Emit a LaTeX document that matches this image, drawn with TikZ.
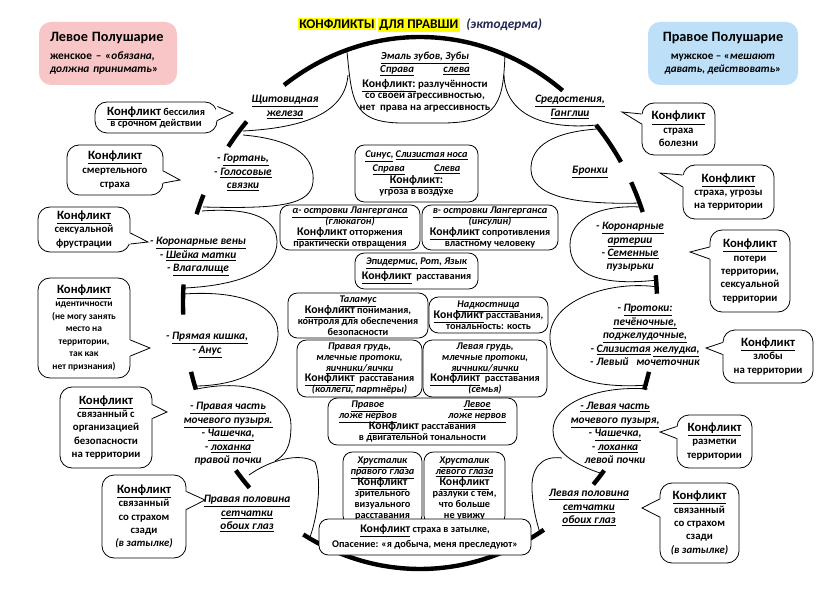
\documentclass[tikz,border=0pt]{standalone}
\usepackage{fontspec}
\setmainfont{Carlito}
\usetikzlibrary{calc}

\definecolor{leftpink}{HTML}{F8C6C6}
\definecolor{rightblue}{HTML}{BEDFF8}
\definecolor{hilite}{HTML}{FFFF00}
\definecolor{navy}{HTML}{202850}
\setlength\fboxsep{1pt}
\setlength\lineskiplimit{-10pt}
\setlength\lineskip{0pt}

\tikzset{
  ring/.style={line width=3.3pt},
  petal/.style={line width=0.6pt},
  sz/.style 2 args={minimum width=#1*0.75pt, minimum height=#2*0.75pt},
  cbox/.style={draw, line width=0.6pt, rounded corners=7, fill=white, align=center, inner sep=0pt, font=\fontsize{7.7}{8.2}\selectfont\bfseries},
  bubble/.style={draw, line width=0.6pt, rounded corners=9, fill=white, align=center, inner sep=0pt, font=\fontsize{8.1}{10}\selectfont\bfseries},
  organ/.style={align=center, inner sep=0pt, font=\fontsize{8.5}{10.1}\selectfont\bfseries\itshape}
}

\newcommand\und[1]{\underline{#1}}
\newcommand\kf{{\fontsize{9.5}{9.5}\selectfont\und{Конфликт}}}
\newcommand\kfs{{\fontsize{8.8}{8.8}\selectfont\und{Конфликт}}}
\newcommand\kfc{{\fontsize{8.8}{8.8}\selectfont\und{Конфликт:}}}
\newcommand\ringarc[2]{\draw[ring] (420,303) ++(#1:237 and 266) arc[start angle=#1, end angle=#2, x radius=237, y radius=266];}
\newcommand\bubtip[6]{%
  \path (#1.#2) ++(0,#3) coordinate (#1b);
  \fill[white] ($(#1b)+(#5,-#6)$) -- (#4) -- ($(#1b)+(#5,#6)$) -- cycle;
  \draw[petal] ($(#1b)+(0,-#6)$) -- (#4) -- ($(#1b)+(0,#6)$);}

\begin{document}
\begin{tikzpicture}[x=0.75pt,y=-0.75pt]
\useasboundingbox (0,0) rectangle (831,598);
\fill[white] (0,0) rectangle (831,598);

% header
\node[fill=leftpink, rounded corners=9, sz={138}{63}, align=left, inner sep=0pt, text width=87pt, font=\fontsize{8.5}{9.8}\selectfont\bfseries] (lefthemi) at (108,53.5)
  {{\fontsize{10.7}{12}\selectfont Левое Полушарие}\\[4pt]женское – «\textit{обязана,}\\\textit{должна принимать}»};
\node[fill=rightblue, rounded corners=9, sz={150}{63}, align=center, inner sep=0pt, font=\fontsize{8.3}{9.8}\selectfont\bfseries] (righthemi) at (723,53.5)
  {{\fontsize{10.7}{12}\selectfont Правое Полушарие}\\[4pt]мужское – «\textit{мешают}\\\textit{давать, действовать}»};
\node[font=\fontsize{10}{11}\selectfont\bfseries] (title) at (420,25)
  {\colorbox{hilite}{КОНФЛИКТЫ}\hspace{1.5pt}\colorbox{hilite}{ДЛЯ ПРАВШИ}\enspace\textcolor{navy}{\textit{(эктодерма)}}};

% ring
\ringarc{235}{307}
\ringarc{216}{223}
\ringarc{199.5}{204}
\ringarc{177.5}{184}
\ringarc{161}{165}
\ringarc{136}{141}
\ringarc{58.5}{119.5}
\ringarc{39}{43}
\ringarc{15}{19}
\ringarc{354}{358}
\ringarc{333}{340}
\ringarc{318}{328}

% petals
\draw[petal] (347,52) .. controls (352,100) and (352,122) .. (400,123) -- (445,123) .. controls (500,122) and (503,100) .. (505,55);
\draw[petal] (243,131) .. controls (300,128) and (345,115) .. (348,75);
\draw[petal] (597,125) .. controls (545,130) and (505,115) .. (504,75);
\draw[petal] (243,135) .. controls (300,140) and (315,160) .. (313,182) .. controls (311,205) and (280,209) .. (203,207);
\draw[petal] (202,211) .. controls (255,207) and (277,220) .. (277,242) .. controls (277,268) and (245,285) .. (185,288);
\draw[petal] (184,294) .. controls (240,290) and (278,305) .. (278,333) .. controls (278,365) and (245,385) .. (197,386);
\draw[petal] (197,389) .. controls (250,378) and (291,395) .. (291,425) .. controls (291,448) and (285,455) .. (275,461);
\draw[petal] (249,475) .. controls (270,460) and (300,452) .. (315,462) .. controls (322,480) and (318,515) .. (310,537);
\draw[petal] (597,129) .. controls (555,132) and (530,145) .. (531,170) .. controls (532,195) and (570,205) .. (640,203);
\draw[petal] (640,207) .. controls (600,205) and (570,218) .. (570,245) .. controls (570,272) and (595,287) .. (658,280);
\draw[petal] (658,287) .. controls (610,280) and (552,300) .. (550,335) .. controls (549,370) and (580,390) .. (648,385);
\draw[petal] (648,389) .. controls (595,385) and (553,405) .. (553,430) .. controls (553,452) and (575,465) .. (603,474);
\draw[petal] (562,458) .. controls (540,455) and (531,470) .. (532,490) .. controls (533,510) and (537,523) .. (540,533);

% centre
\node[organ, font=\fontsize{8.1}{8.6}\selectfont\bfseries] (enamel) at (425,82)
  {\textit{\und{Эмаль зубов, Зубы}}\\[1pt]\textit{\und{Справа}\hspace{22pt}\und{слева}}\\[3pt]\kfc\ разлучённости\\со своей агрессивностью,\\нет\ \ права на агрессивность};
\node[cbox, sz={123}{57}] (sinus) at (416.5,173.5)
  {\textit{\und{Синус,} \und{Слизистая носа}}\\[2pt]\textit{\und{Справа}\hspace{22pt}\und{Слева}}\\[1pt]\kfc\\угроза в воздухе};
\node[cbox, sz={140}{45}] (alpha) at (350,227.5)
  {\textit{\und{α- островки Лангерганса}}\\\textit{(глюкагон)}\\\kfs\ отторжения\\практически отвращения};
\node[cbox, sz={136}{45}] (beta) at (490,227.5)
  {\textit{\und{в- островки Лангерганса}}\\\textit{(инсулин)}\\\kfs\ сопротивления\\властному человеку};
\node[cbox, sz={123}{36}] (epid) at (416.5,271)
  {\textit{\und{Эпидермис,} \und{Рот, Язык}}\\[3pt]\kfs\ \ расставания};
\node[cbox, sz={140}{45}] (thal) at (358,315.5)
  {\textit{\und{Таламус}}\\\kfs\ понимания,\\контроля для обеспечения\\безопасности};
\node[cbox, sz={119}{36}] (nadk) at (488.5,315)
  {\textit{\und{Надкостница}}\\\kfs\ расставания,\\тональность: кость};
\node[cbox, sz={125}{57}] (rbreast) at (359.5,368.5)
  {\textit{Правая грудь,}\\\textit{млечные протоки,}\\\textit{\und{яичники/яички}}\\\kfs\ \ расставания\\\textit{(коллеги, партнёры)}};
\node[cbox, sz={124}{57}] (lbreast) at (485,368.5)
  {\textit{Левая грудь,}\\\textit{млечные протоки,}\\\textit{\und{яичники/яички}}\\\kfs\ \ расставания\\\textit{(семья)}};
\node[cbox, sz={189}{47}] (nerves) at (422.5,421.5)
  {\textit{\makebox[50pt]{\und{Правое}}\hspace{32pt}\makebox[50pt]{\und{Левое}}}\\
   \textit{\makebox[50pt]{\und{ложе нервов}}\hspace{32pt}\makebox[50pt]{\und{ложе нервов}}}\\
   \kfs\ расставания\\в двигательной тональности};
\node[cbox, sz={79}{73}] (rlens) at (382.5,488.5)
  {\textit{\und{Хрусталик}}\\\textit{\und{правого глаза}}\\\kfs\\зрительного\\визуального\\расставания};
\node[cbox, sz={81}{73}] (llens) at (464.5,488.5)
  {\textit{\und{Хрусталик}}\\\textit{\und{левого глаза}}\\\kfs\\разлуки с тем,\\что больше\\не увижу};
\node[cbox, sz={212}{36}] (occiput) at (425,537)
  {\kfs\ страха в затылке,\\[3pt]Опасение: «я добыча, меня преследуют»};

% organs
\node[organ] (thyroid) at (285,107) {\und{Щитовидная}\\\und{железа}};
\node[organ] (mediast) at (570,107) {\und{Средостения,}\\\und{Ганглии}};
\node[organ] (larynx) at (243,173) {- \und{Гортань,}\\- \und{Голосовые}\\\und{связки}};
\node[organ] (bronchi) at (590,172) {\und{Бронхи}};
\node[organ] (cveins) at (198,257) {- \und{Коронарные вены}\\- \und{Шейка матки}\\- \und{Влагалище}};
\node[organ] (carter) at (630,247) {- \und{Коронарные}\\\und{артерии}\\- \und{Семенные}\\пузырьки};
\node[organ] (rectum) at (207,345) {- \und{Прямая кишка,}\\- \und{Анус}};
\node[organ] (ducts) at (645,335) {- \und{Протоки:}\\\und{печёночные,}\\\und{поджелудочные,}\\- \und{Слизистая}\ \und{желудка,}\\- Левый\ \ \ мочеточник};
\node[organ] (rbladder) at (228,434) {\und{- Правая часть}\\\und{мочевого пузыря.}\\- \und{Чашечка,}\\- \und{лоханка}\\правой\ почки};
\node[organ] (rretina) at (247,514) {\und{Правая половина}\\\und{сетчатки}\\\und{обоих глаз}};
\node[organ] (lbladder) at (615,433) {\und{- Левая часть}\\\und{мочевого пузыря,}\\- \und{Чашечка,}\\- \und{лоханка}\\левой\ почки};
\node[organ] (lretina) at (589,508) {\und{Левая половина}\\\und{сетчатки}\\\und{обоих глаз}};

% callouts
\node[bubble, sz={122}{31}, font=\fontsize{7.8}{8.8}\selectfont\bfseries] (k1) at (156,117.5) {\kf\ бессилия\\в срочном действии};
\coordinate (t1) at (233,113);
\bubtip{k1}{east}{-4}{t1}{-1.5}{7}
\node[bubble, sz={96}{50}, font=\fontsize{8.1}{10.5}\selectfont\bfseries] (k2) at (115,170) {\kf\\смертельного\\страха};
\coordinate (t2) at (180,180);
\bubtip{k2}{east}{7}{t2}{-1.5}{6}
\node[bubble, sz={92}{45}] (k3) at (84,229.5) {\kf\\сексуальной\\фрустрации};
\coordinate (t3) at (148,242);
\bubtip{k3}{east}{9}{t3}{-1.5}{5.5}
\node[bubble, sz={92}{100}, font=\fontsize{7.1}{9.4}\selectfont\bfseries] (k4) at (84,328) {\kf\\идентичности\\(не могу занять\\место на\\территории,\\так как\\нет признания)};
\coordinate (t4) at (150,348);
\bubtip{k4}{east}{20}{t4}{-1.5}{8}
\node[bubble, sz={92}{81}] (k5) at (106,427.5) {\kf\\связанный с\\организацией\\безопасности\\на территории};
\coordinate (t5) at (167,412);
\bubtip{k5}{east}{-16}{t5}{-1.5}{7}
\node[bubble, sz={84}{83}] (k6) at (144,516.5) {\kf\\связанный\\со страхом\\сзади\\\textit{(в затылке)}};
\coordinate (t6) at (205,500);
\bubtip{k6}{east}{-16}{t6}{-1.5}{9}
\node[bubble, sz={73}{52}] (k7) at (678.5,129) {\kf\\страха\\болезни};
\coordinate (t7) at (622,112);
\bubtip{k7}{west}{-10}{t7}{1.5}{5}
\node[bubble, sz={91}{54}] (k8) at (728.5,192) {\kf\\страха, угрозы\\на территории};
\coordinate (t8) at (660,173);
\bubtip{k8}{west}{-11}{t8}{1.5}{6}
\node[bubble, sz={80}{82}] (k9) at (750,271) {\kf\\потери\\территории,\\сексуальной\\территории};
\coordinate (t9) at (690,252);
\bubtip{k9}{west}{-18}{t9}{1.5}{6}
\node[bubble, sz={90}{53}] (k10) at (768,356.5) {\kf\\злобы\\на территории};
\coordinate (t10) at (706,348);
\bubtip{k10}{west}{-8}{t10}{1.5}{6}
\node[bubble, sz={75}{53}] (k11) at (714.5,441.5) {\kf\\разметки\\территории};
\coordinate (t11) at (660,432);
\bubtip{k11}{west}{-9}{t11}{1.5}{6}
\node[bubble, sz={79}{80}] (k12) at (699.5,523) {\kf\\связанный\\со страхом\\сзади\\\textit{(в затылке)}};
\coordinate (t12) at (642,508);
\bubtip{k12}{west}{-15}{t12}{1.5}{9}
\end{tikzpicture}
\end{document}
